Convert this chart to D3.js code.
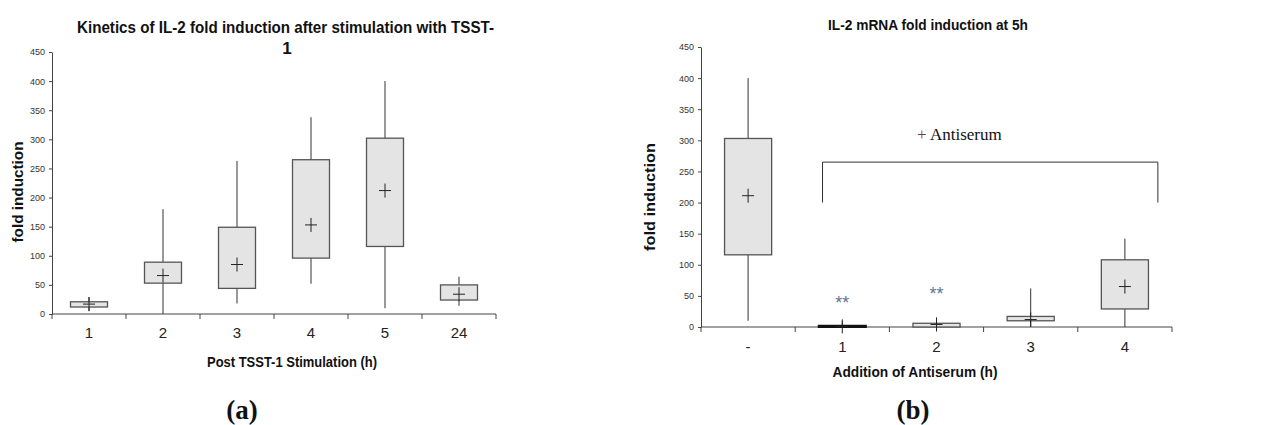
<!DOCTYPE html>
<html>
<head>
<meta charset="utf-8">
<script src="https://cdn.jsdelivr.net/npm/d3@7"></script>
<style>
  body { margin: 0; background: #fff; }
  svg { display: block; font-family: "Liberation Sans", Arial, sans-serif; }
</style>
</head>
<body>
<svg id="chart" width="1273" height="425"></svg>
<script>
// ---- panel (a): kinetics ----
const catsA  = ["1", "2", "3", "4", "5", "24"]
const lowA   = [5, 0, 18, 52, 10, 14]
const q1A    = [12, 53, 44, 96, 116, 24]
const q3A    = [21, 89, 149, 265, 302, 50]
const highA  = [29, 180, 263, 338, 400, 64]
const meanA  = [17, 66, 85, 153, 212, 34]

// ---- panel (b): antiserum ----
const catsB  = ["-", "1", "2", "3", "4"]
const lowB   = [10, 0, 0, 0, 0]
const q1B    = [116, 0, 0, 10, 29]
const q3B    = [303, 2, 6, 17, 108]
const highB  = [400, 9, 15, 62, 142]
const meanB  = [211, 1, 4, 12, 65]
const sigCats = ["1", "2"]
const sigVals = [44, 58]
const bracketCats = ["1", "4"]
const bracketVals = [265, 200]

const yTicks = d3.range(0, 451, 50)

const svg = d3.select("#chart")

// helper: fit text to a measured width
function label(g, txt, x, y, opts) {
  const t = g.append("text")
    .attr("x", x).attr("y", y)
    .attr("text-anchor", opts.anchor || "middle")
    .attr("font-size", opts.size)
    .attr("font-weight", opts.weight || "normal")
    .attr("fill", opts.fill || "#111")
    .text(txt)
  if (opts.family) t.attr("font-family", opts.family)
  if (opts.len) t.attr("textLength", opts.len).attr("lengthAdjust", "spacingAndGlyphs")
  if (opts.rotate) t.attr("transform", `rotate(-90,${x},${y})`)
  return t
}

function boxPanel(cfg) {
  const g = svg.append("g")
  const data = cfg.cats.map((c, i) => ({
    c, low: cfg.low[i], q1: cfg.q1[i], q3: cfg.q3[i], high: cfg.high[i], mean: cfg.mean[i]
  }))

  const x = d3.scaleBand().domain(cfg.cats).range(cfg.xr)
  const y = d3.scaleLinear().domain([0, 450]).range(cfg.yr)
  const bw = x.bandwidth() / 2

  // y axis
  g.append("g")
    .attr("transform", `translate(${cfg.xr[0]},0)`)
    .call(d3.axisLeft(y).tickValues(yTicks).tickSize(3).tickSizeOuter(0).tickPadding(4))
    .call(a => a.selectAll("path,line").attr("stroke", "#444"))
    .call(a => a.selectAll("text").attr("font-size", 9).attr("fill", "#333").attr("font-family", null))

  // x axis: ticks on band edges
  const xa = g.append("g").attr("transform", `translate(0,${cfg.yr[0]})`)
  xa.append("line")
    .attr("x1", cfg.xr[0]).attr("x2", cfg.xr[1])
    .attr("stroke", "#444")
  const edges = cfg.cats.map(c => x(c)).concat([cfg.xr[1]])
  xa.selectAll(".edge").data(edges).join("line")
    .attr("class", "edge")
    .attr("x1", d => d).attr("x2", d => d)
    .attr("y1", 0).attr("y2", 5)
    .attr("stroke", "#444")
  xa.selectAll(".lab").data(cfg.cats).join("text")
    .attr("class", "lab")
    .attr("x", d => x(d) + x.bandwidth() / 2)
    .attr("y", cfg.tickY - cfg.yr[0])
    .attr("text-anchor", "middle")
    .attr("font-size", 15)
    .attr("fill", "#222")
    .text(d => d)

  // whiskers
  g.selectAll(".wh").data(data).join("line")
    .attr("x1", d => x(d.c) + x.bandwidth() / 2)
    .attr("x2", d => x(d.c) + x.bandwidth() / 2)
    .attr("y1", d => y(d.low)).attr("y2", d => y(d.high))
    .attr("stroke", "#333").attr("stroke-width", 1)

  // boxes
  g.selectAll(".bx").data(data).join("rect")
    .attr("x", d => x(d.c) + bw / 2)
    .attr("width", bw)
    .attr("y", d => y(d.q3))
    .attr("height", d => Math.max(1, y(d.q1) - y(d.q3)))
    .attr("fill", "#e4e4e4")
    .attr("stroke", d => (y(d.q1) - y(d.q3)) < 3 ? "#111" : "#555")
    .attr("stroke-width", d => (y(d.q1) - y(d.q3)) < 3 ? 2 : 1.3)

  // mean crosses
  const cr = g.selectAll(".mn").data(data).join("g")
    .attr("transform", d => `translate(${x(d.c) + x.bandwidth() / 2},${y(d.mean)})`)
  cr.append("line").attr("x1", -6).attr("x2", 6).attr("stroke", "#222")
  cr.append("line").attr("y1", -7).attr("y2", 7).attr("stroke", "#222")

  return { g, x, y }
}

// ---------- panel (a) ----------
const A = boxPanel({
  cats: catsA, low: lowA, q1: q1A, q3: q3A, high: highA, mean: meanA,
  xr: [52, 496], yr: [314, 52], tickY: 338
})
label(A.g, "Kinetics of IL-2 fold induction after stimulation with TSST-", 285.5, 33, { size: 17, weight: "bold", len: 417 })
label(A.g, "1", 287, 54, { size: 17, weight: "bold" })
label(A.g, "Post TSST-1 Stimulation (h)", 292, 367, { size: 15, weight: "bold", len: 170 })
label(A.g, "fold induction", 23, 192, { size: 15, weight: "bold", rotate: true, len: 101 })
label(A.g, "(a)", 242, 419, { size: 27, weight: "bold", family: "'Liberation Serif', 'Times New Roman', serif" })

// ---------- panel (b) ----------
const B = boxPanel({
  cats: catsB, low: lowB, q1: q1B, q3: q3B, high: highB, mean: meanB,
  xr: [701, 1172], yr: [327, 47], tickY: 352
})
label(B.g, "IL-2 mRNA fold induction at 5h", 928, 30, { size: 15, weight: "bold", len: 200 })
label(B.g, "Addition of Antiserum (h)", 915, 377, { size: 15, weight: "bold", len: 165 })
label(B.g, "fold induction", 655, 197, { size: 15, weight: "bold", rotate: true, len: 108 })
label(B.g, "(b)", 913, 419, { size: 27, weight: "bold", family: "'Liberation Serif', 'Times New Roman', serif" })

// significance stars
B.g.selectAll(".sig").data(sigCats).join("text")
  .attr("class", "sig")
  .attr("x", d => B.x(d) + B.x.bandwidth() / 2)
  .attr("y", (d, i) => B.y(sigVals[i]) + 9)
  .attr("text-anchor", "middle")
  .attr("font-size", 18)
  .attr("fill", "#5f7494")
  .text("**")

// bracket for "+ Antiserum"
const bx0 = B.x(bracketCats[0]) + B.x.bandwidth() * 0.29
const bx1 = B.x(bracketCats[1]) + B.x.bandwidth() * 0.85
B.g.append("path")
  .attr("d", d3.line()([
    [bx0, B.y(bracketVals[1])], [bx0, B.y(bracketVals[0])],
    [bx1, B.y(bracketVals[0])], [bx1, B.y(bracketVals[1])]
  ]))
  .attr("fill", "none").attr("stroke", "#333").attr("stroke-width", 1)

const ant = B.g.append("text")
  .attr("x", 917).attr("y", 140)
  .attr("font-size", 17)
  .attr("font-family", "'Liberation Serif', 'Times New Roman', serif")
  .attr("fill", "#111")
ant.append("tspan").attr("fill", "#8a3345").text("+")
ant.append("tspan").text(" Antiserum")
</script>
</body>
</html>
